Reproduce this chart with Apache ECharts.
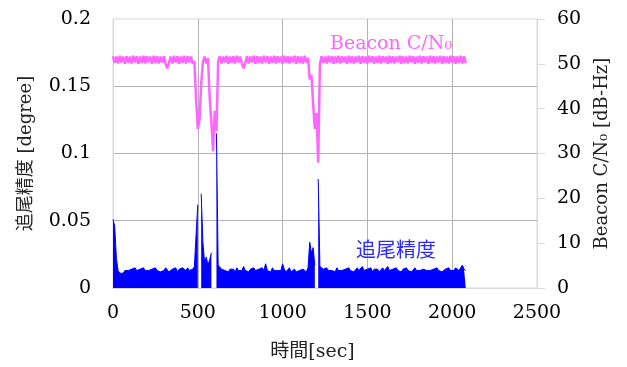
<!DOCTYPE html>
<html>
<head>
<meta charset="utf-8">
<script src="https://cdn.jsdelivr.net/npm/echarts@6.0.0/dist/echarts.min.js"></script>
<style>
  html, body { margin: 0; padding: 0; background: #fff; }
  #chart { width: 627px; height: 367px; }
</style>
</head>
<body>
<div id="chart"></div>
<script>
// one sample every 10 s, from 0 s to 2080 s
const SAMPLE_STEP = 10;

const X_TICKS = [0, 500, 1000, 1500, 2000, 2500];

// tracking error [degree]; null = no data
const TRACK_ERR = [
  0.051, 0.046, 0.022, 0.013, 0.011, 0.012, 0.011, 0.013, 0.012, 0.013,
  0.012, 0.014, 0.013, 0.015, 0.013, 0.012, 0.014, 0.013, 0.015, 0.013,
  0.014, 0.013, 0.012, 0.014, 0.013, 0.015, 0.013, 0.014, 0.012, 0.013,
  0.013, 0.015, 0.014, 0.012, 0.013, 0.014, 0.013, 0.015, 0.012, 0.014,
  0.013, 0.015, 0.014, 0.013, 0.015, 0.013, 0.012, 0.014, 0.016, 0.040,
  0.062, null, 0.070, 0.034, 0.019, 0.023, 0.017, 0.021, 0.026, null,
  null, 0.115, 0.017, 0.018, 0.014, 0.015, 0.013, 0.014, 0.012, 0.014,
  0.013, 0.014, 0.012, 0.015, 0.013, 0.014, 0.013, 0.016, 0.013, 0.014,
  0.012, 0.014, 0.013, 0.015, 0.013, 0.012, 0.014, 0.013, 0.015, 0.013,
  0.018, 0.013, 0.014, 0.012, 0.015, 0.013, 0.014, 0.013, 0.012, 0.013,
  0.018, 0.014, 0.012, 0.013, 0.015, 0.012, 0.013, 0.014, 0.012, 0.013,
  0.013, 0.012, 0.014, 0.013, 0.012, 0.015, 0.034, 0.026, 0.030, 0.017,
  null, 0.081, 0.016, 0.015, 0.014, 0.013, 0.015, 0.013, 0.014, 0.013,
  0.014, 0.012, 0.015, 0.013, 0.014, 0.013, 0.012, 0.014, 0.013, 0.015,
  0.013, 0.014, 0.012, 0.013, 0.015, 0.013, 0.014, 0.016, 0.013, 0.012,
  0.014, 0.013, 0.015, 0.012, 0.014, 0.013, 0.014, 0.012, 0.013, 0.015,
  0.013, 0.014, 0.016, 0.013, 0.012, 0.014, 0.013, 0.015, 0.013, 0.014,
  0.012, 0.014, 0.013, 0.015, 0.013, 0.014, 0.012, 0.013, 0.015, 0.013,
  0.014, 0.013, 0.012, 0.014, 0.015, 0.013, 0.014, 0.013, 0.012, 0.014,
  0.013, 0.015, 0.013, 0.014, 0.012, 0.013, 0.014, 0.013, 0.015, 0.013,
  0.014, 0.013, 0.015, 0.016, 0.013, 0.014, 0.017, 0.014, 0.013
];

// beacon C/N0 [dB-Hz]
const BEACON_CN0 = [
  51.7, 50.2, 51.6, 50.1, 51.8, 50.3, 51.6, 50.0, 51.7, 50.2,
  51.6, 50.1, 51.8, 50.3, 51.7, 50.0, 51.6, 50.2, 51.8, 50.1,
  51.7, 50.3, 51.6, 50.0, 51.8, 50.2, 51.7, 50.1, 51.6, 50.3,
  51.7, 50.0, 49.0, 50.2, 51.6, 50.1, 51.8, 50.3, 51.7, 50.0,
  51.6, 50.2, 51.8, 50.1, 51.7, 50.3, 51.6, 50.0, 50.6, 42.0,
  35.5, 37.5, 45.5, 50.4, 51.6, 50.1, 51.3, 42.5, 37.0, 30.5,
  39.5, 35.0, 50.6, 51.7, 50.1, 51.6, 50.3, 51.8, 50.0, 51.6,
  50.2, 51.7, 50.1, 51.8, 50.3, 51.6, 50.0, 49.0, 50.2, 51.7,
  50.1, 51.6, 50.3, 51.8, 50.0, 51.7, 50.2, 51.6, 50.1, 51.8,
  50.3, 51.7, 50.0, 51.6, 50.2, 51.8, 50.1, 51.7, 50.3, 51.6,
  50.0, 51.8, 50.2, 51.7, 50.1, 51.6, 50.3, 51.8, 50.0, 51.7,
  50.2, 51.6, 50.1, 51.8, 50.3, 51.4, 46.5, 47.5, 41.0, 35.5,
  39.0, 28.0, 50.0, 51.7, 50.2, 51.6, 50.1, 51.8, 50.3, 51.7,
  50.0, 51.6, 50.2, 51.8, 50.1, 51.7, 50.3, 51.6, 50.0, 51.8,
  50.2, 51.7, 50.1, 51.6, 50.3, 51.8, 50.0, 51.7, 50.2, 51.6,
  50.1, 51.8, 50.3, 51.7, 50.0, 51.6, 50.2, 51.8, 50.1, 51.7,
  50.3, 51.6, 50.0, 51.8, 50.2, 51.7, 50.1, 51.6, 50.3, 51.8,
  50.0, 51.7, 50.2, 51.6, 50.1, 51.8, 50.3, 51.7, 50.0, 51.6,
  50.2, 51.8, 50.1, 51.7, 50.3, 51.6, 50.0, 51.8, 50.2, 51.7,
  50.1, 51.6, 50.3, 51.8, 50.0, 51.7, 50.2, 51.6, 50.1, 51.8,
  50.3, 51.7, 50.0, 51.6, 50.2, 51.8, 50.1, 51.7, 50.2
];

const SERIF = "'DejaVu Serif', 'Noto Sans CJK JP', serif";
const AXIS_GRAY = "#d9d9d9";
const GRID_GRAY = "#b3b3b3";

const chart = echarts.init(document.getElementById("chart"), null, { renderer: "canvas" });

const toPairs = (vals) => vals.map((v, i) => [i * SAMPLE_STEP, v]);
const plainNumber = (v) => String(v);

const option = {
  animation: false,
  backgroundColor: "#fff",
  grid: {
    left: 113, right: 90, top: 19, bottom: 75,
    show: true, borderColor: AXIS_GRAY, borderWidth: 1
  },
  xAxis: {
    type: "value",
    min: X_TICKS[0],
    max: X_TICKS[X_TICKS.length - 1],
    interval: X_TICKS[1] - X_TICKS[0],
    axisLine: { show: true, lineStyle: { color: AXIS_GRAY } },
    axisTick: { show: false },
    axisLabel: { color: "#000", fontFamily: SERIF, fontSize: 19, margin: 16, formatter: plainNumber },
    splitLine: { show: true, showMinLine: false, showMaxLine: false, lineStyle: { color: GRID_GRAY } },
    name: "時間[sec]",
    nameLocation: "middle",
    nameGap: 55,
    nameTextStyle: { color: "#222", fontFamily: SERIF, fontSize: 19, padding: [0, 25, 0, 0] }
  },
  yAxis: [
    {
      type: "value",
      position: "left",
      min: 0, max: 0.2, interval: 0.05,
      axisLine: { show: true, lineStyle: { color: AXIS_GRAY } },
      axisTick: { show: false },
      axisLabel: { color: "#000", fontFamily: SERIF, fontSize: 19, margin: 22, formatter: plainNumber },
      splitLine: { show: true, showMinLine: false, showMaxLine: false, lineStyle: { color: GRID_GRAY } },
      name: "追尾精度 [degree]",
      nameLocation: "middle",
      nameGap: 78,
      nameTextStyle: { color: "#222", fontFamily: SERIF, fontSize: 18 }
    },
    {
      type: "value",
      position: "right",
      min: 0, max: 60, interval: 10,
      axisLine: { show: true, lineStyle: { color: AXIS_GRAY } },
      axisTick: { show: true, inside: false, length: 8, lineStyle: { color: AXIS_GRAY } },
      axisLabel: { color: "#000", fontFamily: SERIF, fontSize: 19, margin: 20, formatter: plainNumber },
      splitLine: { show: false },
      name: "Beacon C/N₀ [dB-Hz]",
      nameLocation: "middle",
      nameGap: 56,
      nameTextStyle: { color: "#222", fontFamily: SERIF, fontSize: 18 }
    }
  ],
  series: [
    {
      name: "追尾精度",
      type: "line",
      yAxisIndex: 0,
      data: toPairs(TRACK_ERR),
      showSymbol: false,
      connectNulls: false,
      lineStyle: { color: "#0000ff", width: 1 },
      areaStyle: { color: "#0000ff", opacity: 1 },
      itemStyle: { color: "#0000ff" },
      markPoint: {
        symbol: "circle",
        symbolSize: 1,
        itemStyle: { color: "transparent" },
        label: {
          show: true, position: "inside", formatter: "追尾精度",
          color: "#2b2bff", fontFamily: "'Noto Sans CJK JP', sans-serif", fontSize: 20
        },
        data: [{ coord: [1668, 0.0286] }]
      }
    },
    {
      name: "Beacon C/N0",
      type: "line",
      yAxisIndex: 1,
      data: toPairs(BEACON_CN0),
      showSymbol: false,
      lineStyle: { color: "#ff66ff", width: 2.5 },
      itemStyle: { color: "#ff66ff" },
      markPoint: {
        symbol: "circle",
        symbolSize: 1,
        itemStyle: { color: "transparent" },
        label: {
          show: true, position: "inside", formatter: "Beacon C/N₀",
          color: "#ff66ff", fontFamily: SERIF, fontSize: 19
        },
        data: [{ coord: [1639, 54.5] }]
      }
    }
  ]
};

chart.setOption(option);
</script>
</body>
</html>
